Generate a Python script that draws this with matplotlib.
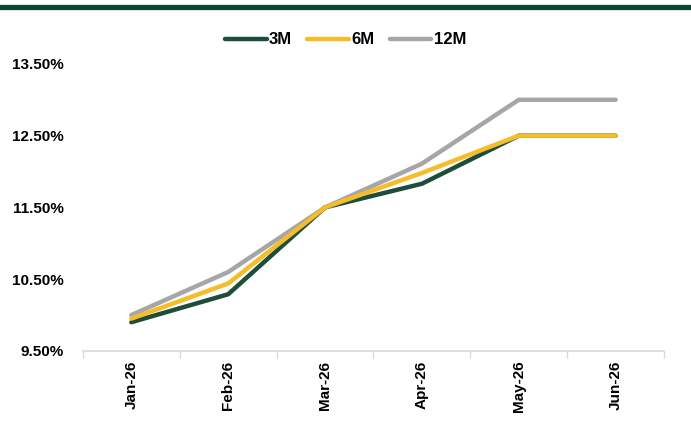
import matplotlib
matplotlib.use('Agg')
import matplotlib.pyplot as plt
from matplotlib.lines import Line2D

plt.rcParams['font.family'] = ['Liberation Sans', 'DejaVu Sans']
plt.rcParams['font.weight'] = 'bold'

# data
months = ['Jan-26', 'Feb-26', 'Mar-26', 'Apr-26', 'May-26', 'Jun-26']
rate_3m = [9.90, 10.29, 11.50, 11.83, 12.50, 12.50]
rate_6m = [9.95, 10.44, 11.50, 11.98, 12.50, 12.50]
rate_12m = [10.00, 10.60, 11.50, 12.11, 13.00, 13.00]
y_ticks = [9.5, 10.5, 11.5, 12.5, 13.5]

green = '#1e4d3b'
yellow = '#f5bd2a'
grey = '#a6a6a6'

fig = plt.figure(figsize=(6.91, 4.29), dpi=100)
ax = fig.add_axes([0.120, 0.182, 0.841, 0.669])

x = list(range(len(months)))
ax.plot(x, rate_3m, color=green, lw=3.2, solid_capstyle='round', label='3M', zorder=3)
ax.plot(x, rate_6m, color=yellow, lw=3.2, solid_capstyle='round', label='6M', zorder=4)
ax.plot(x, rate_12m, color=grey, lw=3.2, solid_capstyle='round', label='12M', zorder=2)

ax.set_xlim(-0.5, len(months) - 0.5)
ax.set_ylim(9.5, 13.5)
ax.set_yticks(y_ticks)
ax.set_yticklabels(['%.2f%%' % v for v in y_ticks])
ax.set_xticks(x)
ax.set_xticklabels(months, rotation=90)
ax.set_xticks([i - 0.5 for i in range(len(months) + 1)], minor=True)
ax.tick_params(axis='x', which='major', length=0, pad=7, labelsize=11)
ax.tick_params(axis='x', which='minor', length=5, color='#d9d9d9', width=1)
ax.tick_params(axis='y', length=0, pad=14, labelsize=11)
for lab in ax.get_xticklabels() + ax.get_yticklabels():
    lab.set_fontweight('bold')

for s in ['top', 'right', 'left']:
    ax.spines[s].set_visible(False)
ax.spines['bottom'].set_color('#d9d9d9')
ax.spines['bottom'].set_linewidth(1.2)
ax.spines['bottom'].set_zorder(1)

# green band on top
fig.add_artist(Line2D([0.003, 0.997], [0.983, 0.983], color='#0b4632', lw=3.8,
                      transform=fig.transFigure))

fig.legend(loc='center', bbox_to_anchor=(0.5, 0.907), ncol=3, frameon=False,
           handlelength=2.5, handletextpad=0.15, columnspacing=0.9,
           prop={'weight': 'bold', 'size': 12})

fig.savefig('out.png', dpi=100)
